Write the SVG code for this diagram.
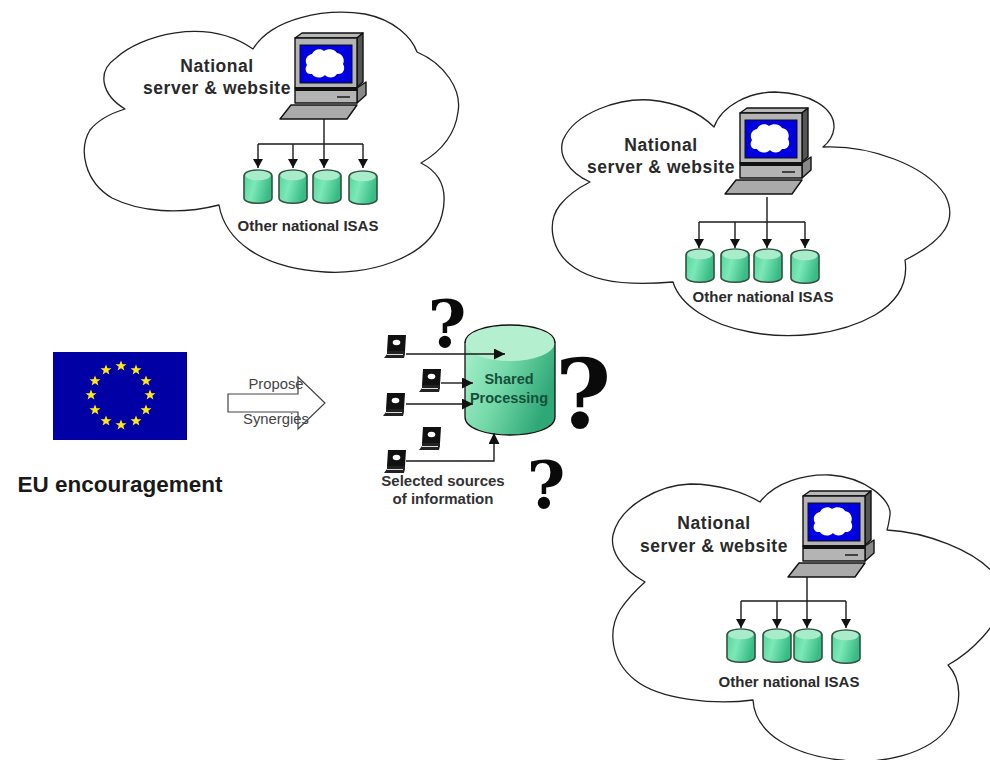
<svg xmlns="http://www.w3.org/2000/svg" width="990" height="760" viewBox="0 0 990 760">
<style>
text{font-family:"Liberation Sans",Arial,sans-serif;text-anchor:middle}
.cloud{fill:#fff;stroke:#222;stroke-width:1.3;stroke-linejoin:round}
.t16{font-size:17.5px;font-weight:bold;fill:#2a2a2a;letter-spacing:.55px}
.t13{font-size:15px;font-weight:bold;fill:#2a2a2a}
.sm{font-size:14.8px;fill:#444}
.q{font-family:"DejaVu Serif",serif;font-weight:bold;fill:#0a0a0a}
.conn{fill:none;stroke:#1a1a1a;stroke-width:1.4}
.k{stroke:#111;stroke-width:1.4;stroke-linejoin:round}
</style>
<defs>
<linearGradient id="cylBody" x1="0" y1="0" x2="1" y2="0.3"><stop offset="0" stop-color="#4fd498"/><stop offset="0.45" stop-color="#7ce8b8"/><stop offset="1" stop-color="#38bb85"/></linearGradient>
<linearGradient id="bigBody" x1="0" y1="0" x2="1" y2="0.4"><stop offset="0" stop-color="#a8f0cc"/><stop offset="0.5" stop-color="#74d8a8"/><stop offset="1" stop-color="#2fa878"/></linearGradient>
<marker id="ah" markerUnits="userSpaceOnUse" markerWidth="9" markerHeight="10" refX="9" refY="5" orient="auto"><path d="M0,0L9,5L0,10Z" fill="#111"/></marker>
<marker id="ahb" markerUnits="userSpaceOnUse" markerWidth="11" markerHeight="11" refX="11" refY="5.5" orient="auto"><path d="M0,0L11,5.5L0,11Z" fill="#111"/></marker>
<polygon id="star" points="0,-5.5 1.5,-1.7 5.5,-1.7 2.3,0.7 3.4,4.6 0,2.3 -3.4,4.6 -2.3,0.7 -5.5,-1.7 -1.5,-1.7" fill="#ffe81a"/>
<g id="computer">
<path class="k" d="M295,38L302,33H363L357,38Z" fill="#b8b8b8"/>
<path class="k" d="M357,38L363,33V82L357,87Z" fill="#555"/>
<rect class="k" x="295" y="38" width="62" height="50" fill="#b4b4b4"/>
<rect x="300" y="45" width="52" height="38" fill="#0000e0" stroke="#111"/>
<path d="M312,54C314,49 321,48 324,51C328,48 335,49 337,53C343,54 345,60 343,64C346,69 343,75 337,74C334,79 327,78 325,75C321,79 314,78 312,74C306,75 304,69 307,65C304,60 307,55 312,54Z" fill="#fff"/>
<path class="k" d="M357,88L366,82V95L357,103Z" fill="#888"/>
<rect class="k" x="295" y="88" width="62" height="15" fill="#b4b4b4"/>
<rect x="295" y="87" width="62" height="4" fill="#111"/>
<path d="M337,97H350" stroke="#111" stroke-width="1.4"/>
<path class="k" d="M291,105H357L347,119H280Z" fill="#aaa"/>
</g>
<g id="cyl">
<path d="M-14,-11C-14,-19 14,-19 14,-11V11C14,18 -14,18 -14,11Z" fill="url(#cylBody)" stroke="#35503f" stroke-width="1.6"/>
<ellipse cx="0" cy="-11.5" rx="12.5" ry="4.8" fill="#a8eccb"/>
</g>
<g id="laptop">
<path d="M4,0H22L21,16H3Z" fill="#111"/>
<ellipse cx="12.5" cy="7.5" rx="3.8" ry="2.8" fill="#fff"/>
<path d="M3,16H21V19L20,23H0L3,19Z" fill="#222"/>
<path d="M3,19.5H19" stroke="#ddd" stroke-width="1"/>
</g>
</defs>
<rect width="990" height="760" fill="#fff"/>

<g id="cloud-top">
<path class="cloud" d="M125,109C102,95 96,72 116,58C140,36 205,16 253,49C272,18 325,8 365,14C395,20 412,38 417,52C445,64 462,90 458,112C455,135 440,152 421,163C445,175 447,195 442,215C430,262 360,275 325,272C260,268 225,240 219,205C180,215 140,212 112,198C85,182 78,150 90,130C98,120 112,113 125,109Z"/>
<use href="#computer"/>
<use href="#cyl" x="258" y="187"/><use href="#cyl" x="293" y="187"/><use href="#cyl" x="327" y="187"/><use href="#cyl" x="363" y="188"/>
<text class="t16" x="217" y="72">National</text>
<text class="t16" x="217" y="94">server &amp; website</text>
<text class="t13" x="308" y="231">Other national ISAS</text>
</g>

<g id="cloud-right">
<path class="cloud" d="M590,182C568,172 558,155 563,140C575,112 620,98 650,100C680,103 700,113 714,127C722,105 750,92 775,92C810,93 835,108 834,128C833,137 828,143 823,147C870,145 925,165 945,195C958,220 945,240 905,260C908,280 900,300 875,315C840,335 790,340 750,332C710,325 680,305 673,282C640,285 600,285 575,268C548,250 548,220 560,205C568,195 578,188 590,182Z"/>
<use href="#computer" x="445" y="75"/>
<use href="#cyl" x="700" y="266"/><use href="#cyl" x="735" y="266"/><use href="#cyl" x="768" y="266"/><use href="#cyl" x="805" y="267"/>
<text class="t16" x="661" y="151">National</text>
<text class="t16" x="661" y="173">server &amp; website</text>
<text class="t13" x="763" y="302">Other national ISAS</text>
</g>

<g id="cloud-bottom">
<path class="cloud" d="M645,582C620,568 610,550 613,535C620,505 660,485 690,484C720,484 745,493 760,502C775,482 805,474 830,475C865,477 892,500 890,515C889,522 888,527 887,530C925,532 975,550 995,575L1000,610C995,625 975,650 948,665C962,680 962,705 950,725C930,755 880,765 840,760C795,755 755,735 753,700C715,705 660,700 635,680C610,660 608,630 620,610C628,598 636,590 645,582Z"/>
<use href="#computer" x="508" y="458"/>
<use href="#cyl" x="741" y="646"/><use href="#cyl" x="777" y="646"/><use href="#cyl" x="808" y="646"/><use href="#cyl" x="846" y="647"/>
<text class="t16" x="714" y="529">National</text>
<text class="t16" x="714" y="552">server &amp; website</text>
<text class="t13" x="789" y="687">Other national ISAS</text>
</g>

<g id="eu-flag">
<rect x="53" y="352" width="134" height="88" fill="#0000a4"/>
<use href="#star" x="121" y="366"/><use href="#star" x="136" y="370"/><use href="#star" x="146" y="381"/><use href="#star" x="150" y="395"/><use href="#star" x="146" y="410"/><use href="#star" x="136" y="421"/><use href="#star" x="121" y="425"/><use href="#star" x="106" y="421"/><use href="#star" x="95" y="410"/><use href="#star" x="91" y="395"/><use href="#star" x="95" y="381"/><use href="#star" x="106" y="370"/>
<text x="120" y="492" font-size="22.5" font-weight="bold" fill="#1a1a1a">EU encouragement</text>
</g>

<g id="propose-arrow">
<path d="M228,394H298V377L325,403L298,429V412H228Z" fill="#fff" stroke="#444" stroke-width="1.2"/>
<text class="sm" x="276" y="389">Propose</text>
<text class="sm" x="276" y="424">Synergies</text>
</g>

<g id="shared-processing">
<path d="M465,343V417C465,441 555,441 555,417V343Z" fill="url(#bigBody)" stroke="#111" stroke-width="1.3"/>
<ellipse cx="510" cy="343" rx="44.5" ry="18" fill="#b4f0d0"/>
<path d="M465,343C465,319 555,319 555,343" fill="none" stroke="#111" stroke-width="1.3"/>
<text x="509" y="384" font-size="14.5" font-weight="bold" fill="#14503a">Shared</text>
<text x="509" y="403" font-size="14.5" font-weight="bold" fill="#14503a">Processing</text>
</g>

<g id="sources">
<use href="#laptop" x="384" y="335"/>
<use href="#laptop" x="419" y="369"/>
<use href="#laptop" x="383" y="393"/>
<use href="#laptop" x="419" y="427"/>
<use href="#laptop" x="384" y="450"/>
<text x="443" y="486" font-size="15" font-weight="bold" fill="#333">Selected sources</text>
<text x="443" y="504" font-size="15" font-weight="bold" fill="#333">of information</text>
</g>

<g id="question-marks">
<text class="q" x="447" y="347" font-size="66">?</text>
<text class="q" x="583" y="428" font-size="96">?</text>
<text class="q" x="546" y="508" font-size="66">?</text>
</g>

<g id="connectors">
<path class="conn" d="M324,119V168" marker-end="url(#ah)"/>
<path class="conn" d="M258,144V168" marker-end="url(#ah)"/>
<path class="conn" d="M293,144V168" marker-end="url(#ah)"/>
<path class="conn" d="M363,144V168" marker-end="url(#ah)"/>
<path class="conn" d="M258,144H363"/>
<path class="conn" d="M767,197V248" marker-end="url(#ah)"/>
<path class="conn" d="M699,222V248" marker-end="url(#ah)"/>
<path class="conn" d="M735,222V248" marker-end="url(#ah)"/>
<path class="conn" d="M805,222V248" marker-end="url(#ah)"/>
<path class="conn" d="M699,222H805"/>
<path class="conn" d="M807,577V628" marker-end="url(#ah)"/>
<path class="conn" d="M741,601V628" marker-end="url(#ah)"/>
<path class="conn" d="M777,601V628" marker-end="url(#ah)"/>
<path class="conn" d="M846,601V628" marker-end="url(#ah)"/>
<path class="conn" d="M741,601H846"/>
<path class="conn" d="M406,354H505" marker-end="url(#ahb)"/>
<path class="conn" d="M441,383H473" marker-end="url(#ahb)"/>
<path class="conn" d="M406,404H473" marker-end="url(#ahb)"/>
<path class="conn" d="M406,461H494V433" marker-end="url(#ahb)"/>
</g>
</svg>
